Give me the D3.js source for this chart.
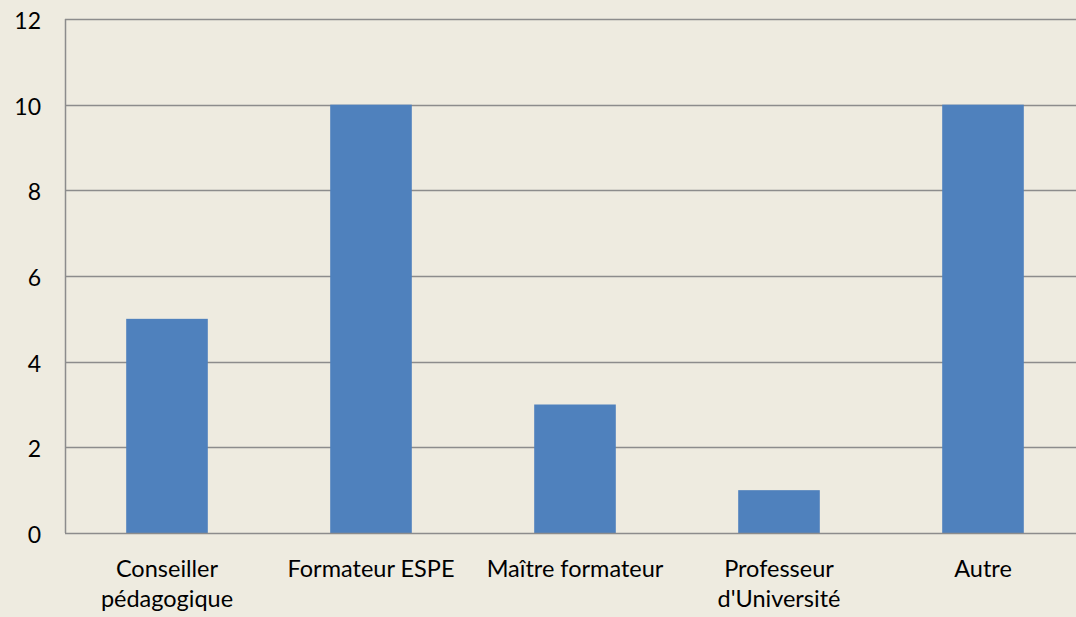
<!DOCTYPE html>
<html>
<head>
<meta charset="utf-8">
<script src="https://d3js.org/d3.v7.min.js"></script>
<style>
  html, body { margin: 0; padding: 0; background: #eeebe0; }
  svg { display: block; }
</style>
</head>
<body>
<script>
const categories = ["Conseiller pédagogique", "Formateur ESPE", "Maître formateur", "Professeur d'Université", "Autre"];
const labelLines = [["Conseiller", "pédagogique"], ["Formateur ESPE"], ["Maître formateur"], ["Professeur", "d'Université"], ["Autre"]];
const values = [5, 10, 3, 1, 10];
const yTicks = [0, 2, 4, 6, 8, 10, 12];

const width = 1076, height = 617;
const margin = {top: 19, right: -9, bottom: 84, left: 65};

const svg = d3.select("body").append("svg")
  .attr("width", width)
  .attr("height", height);

const x = d3.scaleBand()
  .domain(categories)
  .range([margin.left, width - margin.right])
  .paddingInner(0.6)
  .paddingOuter(0.3);

const y = d3.scaleLinear()
  .domain([0, 12])
  .range([height - margin.bottom, margin.top]);

const font = "Lato, 'Open Sans', sans-serif";

// gridlines
svg.append("g")
  .selectAll("line")
  .data(yTicks.filter(d => d > 0))
  .join("line")
    .attr("x1", margin.left)
    .attr("x2", width)
    .attr("y1", d => Math.round(y(d)) + 0.5)
    .attr("y2", d => Math.round(y(d)) + 0.5)
    .attr("stroke", "#8c8c8c")
    .attr("stroke-width", 1.5);

// bars
svg.append("g")
  .selectAll("rect")
  .data(values)
  .join("rect")
    .attr("x", (d, i) => x(categories[i]))
    .attr("y", d => y(d))
    .attr("width", x.bandwidth())
    .attr("height", d => y(0) - y(d))
    .attr("fill", "#4f81bd");

// axes lines
svg.append("line")
  .attr("x1", margin.left + 0.5).attr("x2", margin.left + 0.5)
  .attr("y1", margin.top).attr("y2", y(0))
  .attr("stroke", "#8c8c8c").attr("stroke-width", 1.5);
svg.append("line")
  .attr("x1", margin.left).attr("x2", width)
  .attr("y1", Math.round(y(0)) + 0.5).attr("y2", Math.round(y(0)) + 0.5)
  .attr("stroke", "#8c8c8c").attr("stroke-width", 1.5);

// y tick labels
svg.append("g")
  .selectAll("text")
  .data(yTicks)
  .join("text")
    .attr("x", 41)
    .attr("y", d => y(d) + 2)
    .attr("dy", "0.35em")
    .attr("text-anchor", "end")
    .style("font-family", font)
    .style("font-size", "23px")
    .attr("fill", "#000")
    .text(d => d);

// x labels
const xl = svg.append("g")
  .selectAll("text")
  .data(categories)
  .join("text")
    .attr("x", d => x(d) + x.bandwidth() / 2)
    .attr("y", 577)
    .attr("text-anchor", "middle")
    .style("font-family", font)
    .style("font-size", "23.5px")
    .attr("fill", "#000");

xl.selectAll("tspan")
  .data((d, i) => labelLines[i])
  .join("tspan")
    .attr("x", function() { return d3.select(this.parentNode).attr("x"); })
    .attr("dy", (d, i) => i === 0 ? 0 : 30)
    .text(d => d);
</script>
</body>
</html>
